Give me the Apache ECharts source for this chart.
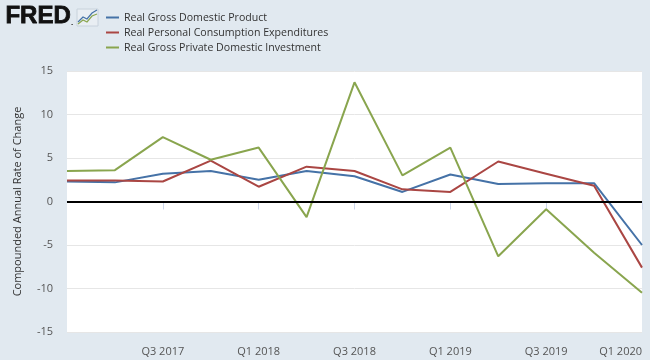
<!DOCTYPE html>
<html><head><meta charset="utf-8">
<script src="https://cdn.jsdelivr.net/npm/echarts@6/dist/echarts.min.js"></script>
<style>html,body{margin:0;padding:0;background:#e1e9f0}#c{width:650px;height:360px}</style>
</head><body><div id="c"></div>
<script>
const categories = ['Q1 2017','Q2 2017','Q3 2017','Q4 2017','Q1 2018','Q2 2018','Q3 2018','Q4 2018','Q1 2019','Q2 2019','Q3 2019','Q4 2019','Q1 2020'];
const gdp = [2.3, 2.2, 3.2, 3.5, 2.5, 3.5, 2.9, 1.1, 3.1, 2.0, 2.1, 2.1, -5.0];
const pce = [2.4, 2.4, 2.3, 4.7, 1.7, 4.0, 3.5, 1.4, 1.1, 4.6, 3.2, 1.8, -7.6];
const inv = [3.5, 3.6, 7.4, 4.8, 6.2, -1.8, 13.7, 3.0, 6.2, -6.3, -0.9, -5.9, -10.5];
const seriesNames = ['Real Gross Domestic Product','Real Personal Consumption Expenditures','Real Gross Private Domestic Investment'];
const yTicks = [-15, -10, -5, 0, 5, 10, 15];
const yTitle = 'Compounded Annual Rate of Change';

const chart = echarts.init(document.getElementById('c'));
const font = '"Open Sans", "Noto Sans", sans-serif';
const colors = ['#4572A7','#AA4643','#89A54E'];
const showIdx = (i) => i > 0 && i % 2 === 0;
chart.setOption({
  backgroundColor: '#e1e9f0',
  animation: false,
  color: colors,
  textStyle: { fontFamily: font },
  grid: { left: 67, right: 8, top: 71, bottom: 28, show: true, backgroundColor: '#ffffff', borderWidth: 0, outerBoundsMode: 'none', containLabel: false },
  legend: {
    orient: 'vertical', left: 106, top: 12, padding: 0, itemWidth: 13, itemHeight: 2, itemGap: 4,
    icon: 'rect', data: seriesNames,
    textStyle: { fontSize: 10.6, color: '#333', fontFamily: font }
  },
  graphic: [
    { type: 'text', left: 5, top: 4, style: { text: 'FRED', font: 'bold 24px "Liberation Sans", Arial, sans-serif', fill: '#111', stroke: '#111', lineWidth: 0.8 } },
    { type: 'text', left: 71, top: 19, style: { text: '.', font: 'bold 8px sans-serif', fill: '#111' } },
    { type: 'rect', shape: { x: 77, y: 9, width: 21, height: 17 }, style: { fill: '#e9eef3', stroke: '#c8d2dc', lineWidth: 1 } },
    { type: 'polyline', shape: { points: [[78,22],[83,17],[87,19],[92,13],[97,10]] }, style: { stroke: '#4572A7', lineWidth: 1.2, fill: null } },
    { type: 'polyline', shape: { points: [[78,24],[83,20],[87,22],[92,16],[97,14]] }, style: { stroke: '#89A54E', lineWidth: 1.2, fill: null } }
  ],
  xAxis: {
    type: 'category', data: categories, boundaryGap: false,
    axisLine: { lineStyle: { color: '#ccd6eb', width: 1 } },
    axisTick: { interval: showIdx, length: 8, lineStyle: { color: '#ccd6eb' } },
    axisLabel: { interval: showIdx, color: '#555', fontSize: 11, margin: 14, fontFamily: font, alignMaxLabel: 'right' },
    splitLine: { show: false }
  },
  yAxis: {
    type: 'value', min: yTicks[0], max: yTicks[yTicks.length - 1], interval: 5,
    name: yTitle, nameLocation: 'middle', nameGap: 44, nameRotate: 90,
    nameTextStyle: { color: '#333', fontSize: 11, fontFamily: font },
    axisLine: { show: false }, axisTick: { show: false },
    axisLabel: { color: '#555', fontSize: 11, margin: 14, fontFamily: font },
    splitLine: { lineStyle: { color: '#e6e6e6', width: 1 } }
  },
  series: [
    { name: seriesNames[0], type: 'line', data: gdp, showSymbol: false, lineStyle: { width: 2 },
      markLine: { silent: true, symbol: 'none', label: { show: false }, lineStyle: { color: '#000', width: 2, type: 'solid' }, data: [{ yAxis: 0 }] } },
    { name: seriesNames[1], type: 'line', data: pce, showSymbol: false, lineStyle: { width: 2 } },
    { name: seriesNames[2], type: 'line', data: inv, showSymbol: false, lineStyle: { width: 2 } }
  ]
});
</script></body></html>
